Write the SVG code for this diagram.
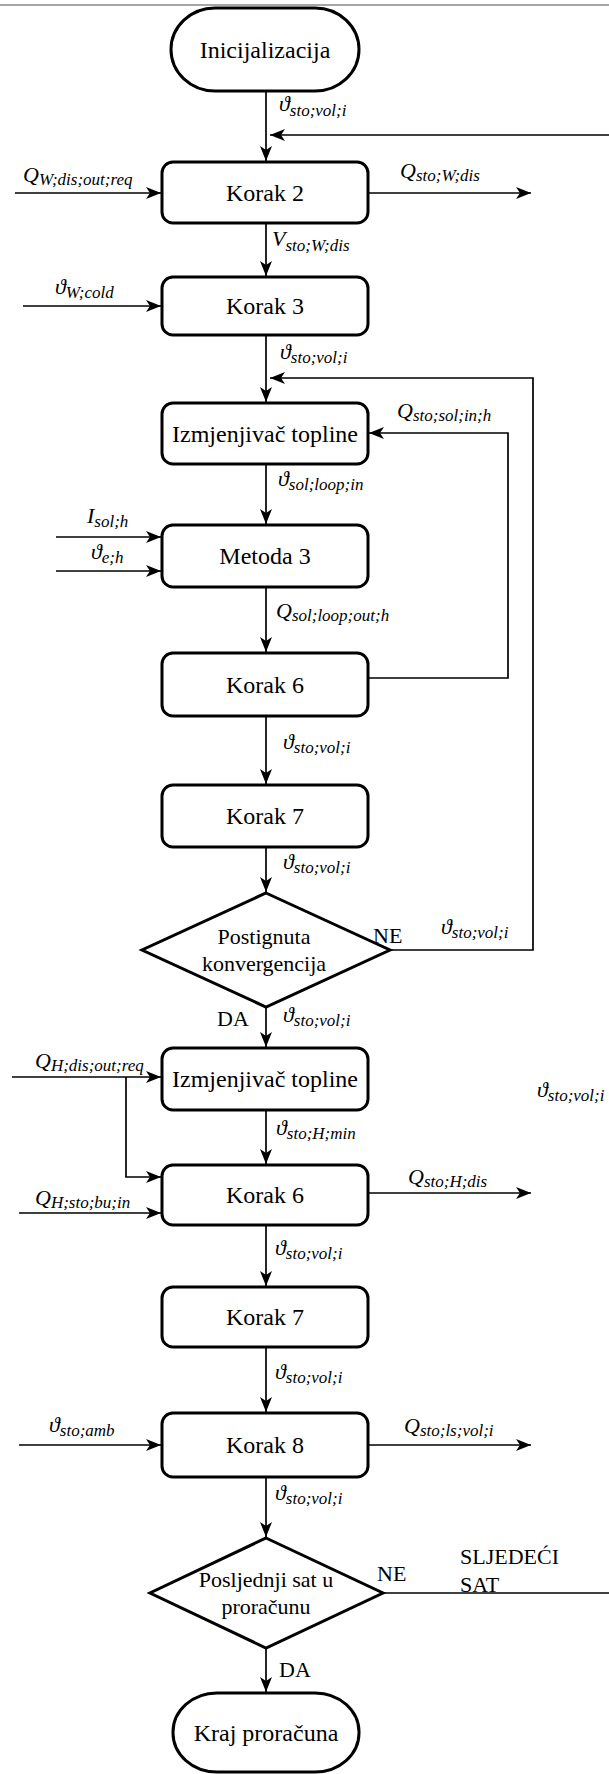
<svg xmlns="http://www.w3.org/2000/svg" width="609" height="1774" viewBox="0 0 609 1774">
<style>
.node{fill:#fff;stroke:#000;stroke-width:3}
.nt{font-family:"Liberation Serif","Times New Roman",serif;font-size:24px;text-anchor:middle;fill:#000}
.dt{font-family:"Liberation Serif","Times New Roman",serif;font-size:22px;text-anchor:middle;fill:#000}
.lb{font-family:"Liberation Serif","Times New Roman",serif;font-size:22px;fill:#000}
.v{font-family:"Liberation Serif","DejaVu Serif","Times New Roman",serif;font-size:22px;font-style:italic;fill:#000}
.s{font-size:17px}
.c{fill:none;stroke:#000;stroke-width:1.7}
</style>
<defs>
<marker id="ah" markerUnits="userSpaceOnUse" markerWidth="16" markerHeight="13" refX="15" refY="6" orient="auto">
<path d="M0,0 L15,6 L0,12 L4,6 z" fill="#000"/>
</marker>
</defs>
<rect width="609" height="1774" fill="#fff"/>
<line x1="0" y1="5" x2="609" y2="5" stroke="#888" stroke-width="1.5"/>

<g id="connectors">
<path class="c" d="M266,91 V161" marker-end="url(#ah)"/>
<path class="c" d="M609,135 H270" marker-end="url(#ah)"/>
<path class="c" d="M15,193 H161" marker-end="url(#ah)"/>
<path class="c" d="M368,193 H531" marker-end="url(#ah)"/>
<path class="c" d="M266,223 V276" marker-end="url(#ah)"/>
<path class="c" d="M23,306 H161" marker-end="url(#ah)"/>
<path class="c" d="M266,335 V402" marker-end="url(#ah)"/>
<path class="c" d="M390,950 H533 V378 H270" marker-end="url(#ah)"/>
<path class="c" d="M368,678 H508 V433 H369" marker-end="url(#ah)"/>
<path class="c" d="M266,464 V524" marker-end="url(#ah)"/>
<path class="c" d="M56,537 H161" marker-end="url(#ah)"/>
<path class="c" d="M56,571 H161" marker-end="url(#ah)"/>
<path class="c" d="M266,587 V652" marker-end="url(#ah)"/>
<path class="c" d="M266,716 V784" marker-end="url(#ah)"/>
<path class="c" d="M266,847 V892" marker-end="url(#ah)"/>
<path class="c" d="M266,1007 V1047" marker-end="url(#ah)"/>
<path class="c" d="M12,1077 H161" marker-end="url(#ah)"/>
<path class="c" d="M126,1077 V1177 H161" marker-end="url(#ah)"/>
<path class="c" d="M19,1213 H161" marker-end="url(#ah)"/>
<path class="c" d="M266,1110 V1164" marker-end="url(#ah)"/>
<path class="c" d="M368,1193 H531" marker-end="url(#ah)"/>
<path class="c" d="M266,1225 V1286" marker-end="url(#ah)"/>
<path class="c" d="M266,1347 V1412" marker-end="url(#ah)"/>
<path class="c" d="M19,1445 H161" marker-end="url(#ah)"/>
<path class="c" d="M368,1445 H531" marker-end="url(#ah)"/>
<path class="c" d="M266,1477 V1537" marker-end="url(#ah)"/>
<path class="c" d="M383,1593 H609"/>
<path class="c" d="M266,1648 V1692" marker-end="url(#ah)"/>
</g>

<g id="n-init"><rect class="node" x="171" y="8" width="188" height="83" rx="44" ry="41.5"/><text class="nt" x="265" y="58">Inicijalizacija</text></g>
<g id="n-korak2"><rect class="node" x="162" y="162" width="206" height="61" rx="11"/><text class="nt" x="265" y="201">Korak 2</text></g>
<g id="n-korak3"><rect class="node" x="162" y="277" width="206" height="58" rx="11"/><text class="nt" x="265" y="314">Korak 3</text></g>
<g id="n-izmj1"><rect class="node" x="162" y="403" width="206" height="61" rx="11"/><text class="nt" x="265" y="442">Izmjenjivač topline</text></g>
<g id="n-metoda3"><rect class="node" x="162" y="525" width="206" height="62" rx="11"/><text class="nt" x="265" y="564">Metoda 3</text></g>
<g id="n-korak6a"><rect class="node" x="162" y="653" width="206" height="63" rx="11"/><text class="nt" x="265" y="693">Korak 6</text></g>
<g id="n-korak7a"><rect class="node" x="162" y="785" width="206" height="62" rx="11"/><text class="nt" x="265" y="824">Korak 7</text></g>
<g id="n-konv"><polygon class="node" points="266,893 390,950 266,1007 142,950"/><text class="dt" x="264" y="944">Postignuta</text><text class="dt" x="264" y="971">konvergencija</text></g>
<g id="n-izmj2"><rect class="node" x="162" y="1048" width="206" height="62" rx="11"/><text class="nt" x="265" y="1087">Izmjenjivač topline</text></g>
<g id="n-korak6b"><rect class="node" x="162" y="1165" width="206" height="60" rx="11"/><text class="nt" x="265" y="1203">Korak 6</text></g>
<g id="n-korak7b"><rect class="node" x="162" y="1287" width="206" height="60" rx="11"/><text class="nt" x="265" y="1325">Korak 7</text></g>
<g id="n-korak8"><rect class="node" x="162" y="1413" width="206" height="64" rx="11"/><text class="nt" x="265" y="1453">Korak 8</text></g>
<g id="n-zadnji"><polygon class="node" points="266,1538 383,1593 266,1648 150,1593"/><text class="dt" x="266" y="1587">Posljednji sat u</text><text class="dt" x="266" y="1614">proračunu</text></g>
<g id="n-kraj"><rect class="node" x="173" y="1693" width="186" height="79" rx="44" ry="39"/><text class="nt" x="266" y="1741">Kraj proračuna</text></g>

<g id="labels">
<text class="v" x="279" y="111">ϑ<tspan class="s" dy="5">sto;vol;i</tspan></text>
<text class="v" x="23" y="182">Q<tspan class="s" dy="3">W;dis;out;req</tspan></text>
<text class="v" x="400" y="178">Q<tspan class="s" dy="3">sto;W;dis</tspan></text>
<text class="v" x="272" y="246">V<tspan class="s" dy="5">sto;W;dis</tspan></text>
<text class="v" x="55" y="294">ϑ<tspan class="s" dy="4">W;cold</tspan></text>
<text class="v" x="280" y="359">ϑ<tspan class="s" dy="4">sto;vol;i</tspan></text>
<text class="v" x="397" y="418">Q<tspan class="s" dy="3">sto;sol;in;h</tspan></text>
<text class="v" x="278" y="486">ϑ<tspan class="s" dy="4">sol;loop;in</tspan></text>
<text class="v" x="87" y="523">I<tspan class="s" dy="4">sol;h</tspan></text>
<text class="v" x="91" y="559">ϑ<tspan class="s" dy="4">e;h</tspan></text>
<text class="v" x="276" y="618">Q<tspan class="s" dy="3">sol;loop;out;h</tspan></text>
<text class="v" x="283" y="749">ϑ<tspan class="s" dy="4">sto;vol;i</tspan></text>
<text class="v" x="283" y="869">ϑ<tspan class="s" dy="4">sto;vol;i</tspan></text>
<text class="lb" x="373" y="943">NE</text>
<text class="v" x="441" y="934">ϑ<tspan class="s" dy="4">sto;vol;i</tspan></text>
<text class="lb" x="217" y="1026">DA</text>
<text class="v" x="283" y="1022">ϑ<tspan class="s" dy="4">sto;vol;i</tspan></text>
<text class="v" x="35" y="1068">Q<tspan class="s" dy="3">H;dis;out;req</tspan></text>
<text class="v" x="537" y="1097">ϑ<tspan class="s" dy="4">sto;vol;i</tspan></text>
<text class="v" x="276" y="1135">ϑ<tspan class="s" dy="4">sto;H;min</tspan></text>
<text class="v" x="408" y="1184">Q<tspan class="s" dy="3">sto;H;dis</tspan></text>
<text class="v" x="35" y="1205">Q<tspan class="s" dy="3">H;sto;bu;in</tspan></text>
<text class="v" x="275" y="1255">ϑ<tspan class="s" dy="4">sto;vol;i</tspan></text>
<text class="v" x="275" y="1379">ϑ<tspan class="s" dy="4">sto;vol;i</tspan></text>
<text class="v" x="49" y="1432">ϑ<tspan class="s" dy="4">sto;amb</tspan></text>
<text class="v" x="404" y="1433">Q<tspan class="s" dy="3">sto;ls;vol;i</tspan></text>
<text class="v" x="275" y="1500">ϑ<tspan class="s" dy="4">sto;vol;i</tspan></text>
<text class="lb" x="377" y="1581">NE</text>
<text class="lb" x="460" y="1564">SLJEDEĆI</text>
<text class="lb" x="460" y="1592">SAT</text>
<text class="lb" x="279" y="1677">DA</text>
</g>
</svg>
